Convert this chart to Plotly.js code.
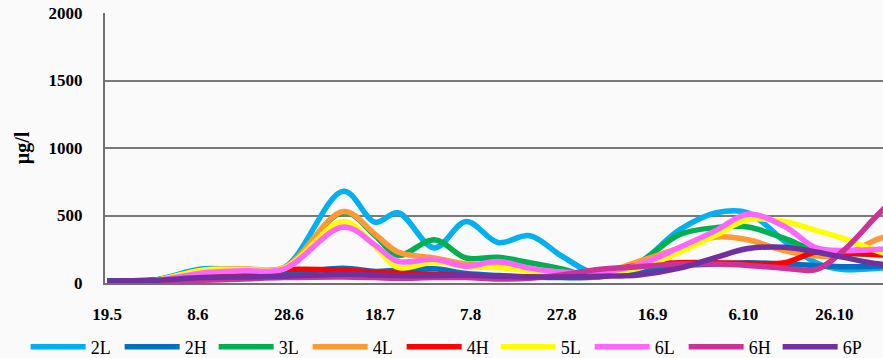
<!DOCTYPE html>
<html>
<head>
<meta charset="utf-8">
<script src="https://cdn.plot.ly/plotly-3.0.1.min.js"></script>
<style>
html,body{margin:0;padding:0;background:#fafafa;}
#chart{width:883px;height:358px;}
</style>
</head>
<body>
<div id="chart"></div>
<script>
// sampling dates (year assumed)
const dates = ["2013-05-19","2013-05-29","2013-06-09","2013-06-18","2013-06-27","2013-07-10","2013-07-17","2013-07-22","2013-07-30","2013-08-06","2013-08-13","2013-08-20","2013-08-27","2013-09-04","2013-09-13","2013-09-22","2013-09-30","2013-10-07","2013-10-15","2013-10-22","2013-10-28","2013-11-05","2013-11-14"];

const s2L = [15,20,105,100,115,680,450,520,260,455,300,350,200,65,150,395,520,520,310,150,100,110,120];
const s2H = [15,20,45,55,70,110,85,95,105,70,55,45,40,45,90,130,140,150,140,130,120,125,125];
const s3L = [15,20,90,100,110,525,350,205,320,185,190,150,105,45,150,360,410,415,330,240,220,210,200];
const s4L = [10,15,95,105,115,530,360,230,185,140,130,100,80,70,160,260,340,320,240,200,210,330,420];
const s4H = [10,15,40,70,100,95,80,75,65,55,50,45,50,80,130,150,150,145,150,230,225,210,200];
const s5L = [10,15,95,100,110,455,270,115,155,120,115,90,70,70,110,230,355,470,455,390,330,230,150];
const s6L = [10,15,75,90,105,415,280,160,175,125,160,110,80,80,135,265,390,510,420,260,240,250,260];
const s6H = [10,10,20,30,40,45,40,35,40,40,30,35,60,100,120,140,140,130,110,100,240,520,800];
const s6P = [15,20,40,45,50,65,60,55,55,60,50,45,45,50,60,110,190,255,265,230,190,140,120];

const seriesNames = ["2L","2H","3L","4L","4H","5L","6L","6H","6P"];
const seriesValues = [s2L,s2H,s3L,s4L,s4H,s5L,s6L,s6H,s6P];
const seriesColors = ["#00B0F0","#0070C0","#00B050","#FF9933","#FF0000","#FFFF00","#FF66FF","#CC3399","#7030A0"];

const xTickVals = ["2013-05-19","2013-06-08","2013-06-28","2013-07-18","2013-08-07","2013-08-27","2013-09-16","2013-10-06","2013-10-26"];
const xTickText = ["19.5","8.6","28.6","18.7","7.8","27.8","16.9","6.10","26.10"];
const yTickVals = [0,500,1000,1500,2000];
const yTickText = ["0","500","1000","1500","2000"];

const traces = seriesNames.map((n,i)=>({
  type:'scatter', mode:'lines', name:n, x:dates, y:seriesValues[i],
  line:{color:seriesColors[i], width:5.5, shape:'spline', smoothing:1},
  hoverinfo:'skip'
}));

const serif = "Liberation Serif, Times New Roman, serif";
const layout = {
  width:883, height:358,
  margin:{l:105, r:0, t:13, b:75, autoexpand:false},
  paper_bgcolor:'#fafafa', plot_bgcolor:'#fafafa',
  showlegend:true,
  legend:{orientation:'h', x:-0.102, xanchor:'left', y:-0.237, yanchor:'middle',
          entrywidth:24, entrywidthmode:'pixels', itemwidth:55,
          font:{family:serif, size:18, color:'#000'}, bgcolor:'rgba(0,0,0,0)'},
  xaxis:{type:'date', range:['2013-05-18 13:00','2013-11-05 17:00'],
         tickvals:xTickVals, ticktext:xTickText, ticks:'outside', ticklen:15, tickcolor:'rgba(0,0,0,0)',
         showgrid:false, zeroline:false, showline:true, linecolor:'#707070', linewidth:2,
         tickfont:{family:serif, size:17, color:'#000', weight:'bold'}},
  yaxis:{range:[0,2000], tickvals:yTickVals, ticktext:yTickText, ticks:'outside', ticklen:17, tickcolor:'rgba(0,0,0,0)',
         showgrid:true, gridcolor:'#7a7a7a', gridwidth:2, zeroline:false,
         showline:true, linecolor:'#707070', linewidth:2,
         tickfont:{family:serif, size:17, color:'#000', weight:'bold'},
         title:{text:'µg/l', font:{family:serif, size:20, color:'#000', weight:'bold'}, standoff:14}}
};
Plotly.newPlot('chart', traces, layout, {staticPlot:true, displayModeBar:false});
</script>
</body>
</html>
